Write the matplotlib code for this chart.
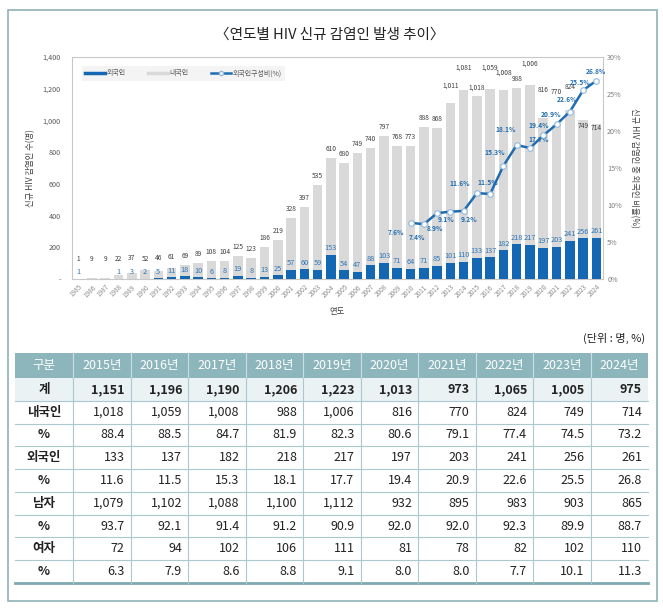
import matplotlib
matplotlib.use("Agg")
import matplotlib.pyplot as plt
from matplotlib.lines import Line2D
from matplotlib.patches import Rectangle
from matplotlib.ticker import FuncFormatter

plt.rcParams['font.family'] = ['Noto Sans CJK KR', 'DejaVu Sans']

# chart data (1985-2024)
years = list(range(1985, 2025))
domestic = [1, 9, 9, 22, 37, 52, 46, 61, 69, 89, 108, 104, 125, 123, 186, 219, 328, 397, 535, 610,
            680, 749, 740, 797, 768, 773, 888, 868, 1011, 1081, 1018, 1059, 1008, 988, 1006, 816,
            770, 824, 749, 714]
foreign = [1, 0, 0, 1, 3, 2, 5, 11, 18, 10, 6, 8, 19, 8, 13, 25, 57, 60, 59, 153,
           54, 47, 88, 103, 71, 64, 71, 85, 101, 110, 133, 137, 182, 218, 217, 197,
           203, 241, 256, 261]
ratio_years = list(range(2010, 2025))
ratio = [7.6, 7.4, 8.9, 9.1, 9.2, 11.6, 11.5, 15.3, 18.1, 17.7, 19.4, 20.9, 22.6, 25.5, 26.8]

# table data
table_cols = ['2015년', '2016년', '2017년', '2018년', '2019년', '2020년', '2021년', '2022년', '2023년', '2024년']
row_labels = ['계', '내국인', '%', '외국인', '%', '남자', '%', '여자', '%']
t_total = [1151, 1196, 1190, 1206, 1223, 1013, 973, 1065, 1005, 975]
t_dom = [1018, 1059, 1008, 988, 1006, 816, 770, 824, 749, 714]
t_dom_pct = [88.4, 88.5, 84.7, 81.9, 82.3, 80.6, 79.1, 77.4, 74.5, 73.2]
t_for = [133, 137, 182, 218, 217, 197, 203, 241, 256, 261]
t_for_pct = [11.6, 11.5, 15.3, 18.1, 17.7, 19.4, 20.9, 22.6, 25.5, 26.8]
t_male = [1079, 1102, 1088, 1100, 1112, 932, 895, 983, 903, 865]
t_male_pct = [93.7, 92.1, 91.4, 91.2, 90.9, 92.0, 92.0, 92.3, 89.9, 88.7]
t_female = [72, 94, 102, 106, 111, 81, 78, 82, 102, 110]
t_female_pct = [6.3, 7.9, 8.6, 8.8, 9.1, 8.0, 8.0, 7.7, 10.1, 11.3]

# label nudges (pixels) - layout only
top_shift = {2013: 8, 2014: 13, 2016: 13, 2017: 9, 2019: 12, 2020: 19, 2021: 24, 2022: 14,
             2023: -15, 2024: -13}
pct_shift = [(-15, -10), (-7, -13), (-2, -15), (-4, -8), (6, -9), (-17, 10), (-2, 11), (-9, 13),
             (-11, 16), (9, 9), (-5, 10), (-5, 10), (-3, 12), (-3, 8), (0, 9)]

BLUE = '#1467b3'
GRAY = '#d9d9d9'
W, H = 663, 609

fig = plt.figure(figsize=(W / 100, H / 100), dpi=100)

# overlay for frame, title and table (pixel coords)
ov = fig.add_axes([0, 0, 1, 1])
ov.set_xlim(0, W)
ov.set_ylim(H, 0)
ov.axis('off')
ov.add_patch(Rectangle((8, 10), 649, 591, fill=False, ec='#8fb3b8', lw=1.2))
ov.text(330, 35, '〈연도별 HIV 신규 감염인 발생 추이〉', ha='center', va='center',
        fontsize=10.5, color='#222222')

# chart
ax = fig.add_axes([72 / W, 1 - 279 / H, 531 / W, 222 / H])
x = list(range(len(years)))
ax.bar(x, foreign, width=0.72, color=BLUE, zorder=3)
ax.bar(x, domestic, width=0.72, bottom=foreign, color=GRAY, zorder=2)
ax.set_xlim(-0.5, len(years) - 0.5)
ax.set_ylim(0, 1400)
ax.set_yticks(range(0, 1401, 200))
ax.yaxis.set_major_formatter(FuncFormatter(lambda v, p: '-' if v == 0 else f'{int(v):,}'))
ax.set_xticks(x)
ax.set_xticklabels(years, rotation=45, ha='right', rotation_mode='anchor')
ax.tick_params(axis='both', length=0, labelsize=4.6, labelcolor='#8c8c8c', pad=3)
ax.tick_params(axis='y', labelsize=5.2, labelcolor='#595959', pad=8)
for s in ax.spines.values():
    s.set_color('#c8c8c8')
    s.set_linewidth(0.8)
ax.set_xlabel('연도', fontsize=6, color='#404040', labelpad=6)
ax.set_ylabel('신규 HIV 감염인 수(명)', fontsize=6, color='#404040', labelpad=5)

for i, yr in enumerate(years):
    total = domestic[i] + foreign[i]
    if foreign[i] > 0:
        ax.annotate(f'{foreign[i]}', (i, foreign[i]), xytext=(0, 2.5), textcoords='offset pixels',
                    ha='center', va='bottom', fontsize=5.3, color='#2e75b6', zorder=5)
    base = max(total, foreign[i] + 70)
    ax.annotate(f'{domestic[i]:,}', (i, base), xytext=(0, 5 + top_shift.get(yr, 0)),
                textcoords='offset pixels', ha='center', va='bottom', fontsize=4.8,
                color='#404040', zorder=5)

ax2 = ax.twinx()
rx = [years.index(y) for y in ratio_years]
ax2.plot(rx, ratio, color='#1f6cb0', lw=1.8, marker='o', ms=4, mfc='white',
         mec='#8fb8dc', mew=0.8, zorder=6)
for i, v in enumerate(ratio):
    dx, dy = pct_shift[i]
    ax2.annotate(f'{v:.1f}%', (rx[i], v), xytext=(dx, dy), textcoords='offset pixels',
                 ha='center', va='center', fontsize=4.8, color='#1f6cb0', fontweight='bold')
ax2.set_ylim(0, 30)
ax2.set_yticks(range(0, 31, 5))
ax2.yaxis.set_major_formatter(FuncFormatter(lambda v, p: f'{int(v)}%'))
ax2.tick_params(axis='y', length=0, labelsize=5.2, labelcolor='#7f7f7f', pad=3)
for s in ax2.spines.values():
    s.set_visible(False)
ax2.set_ylabel('신규 HIV 감염인 중 외국인 비율(%)', fontsize=6, color='#404040',
               rotation=270, labelpad=12)

handles = [Line2D([], [], color=BLUE, lw=2.5),
           Line2D([], [], color=GRAY, lw=2.5),
           Line2D([], [], color='#1f6cb0', lw=1.8, marker='o', ms=3, mfc='white', mec='#8fb8dc')]
leg = ax.legend(handles, ['외국인', '내국인', '외국인구성비(%)'], loc='upper left',
                bbox_to_anchor=(0.012, 0.975), ncol=3, fontsize=5, frameon=True,
                facecolor='#f2f2f2', edgecolor='none', fancybox=False, handlelength=2.8,
                columnspacing=3.2, handletextpad=0.3, borderpad=0.5)
for t in leg.get_texts():
    t.set_color('#595959')

# table
ov.text(645, 338, '(단위 : 명, %)', ha='right', va='center', fontsize=8, color='#222222')
tx0, tx1 = 15, 648
c0 = 73
cw = (tx1 - c0) / len(table_cols)
hy0, hy1 = 353, 378
rh = (583 - hy1) / len(row_labels)
ov.add_patch(Rectangle((tx0, hy0), tx1 - tx0, hy1 - hy0, color='#8cb5bc', lw=0))
ov.add_patch(Rectangle((tx0, hy1), tx1 - tx0, rh, color='#eaf2f4', lw=0))
ov.text((tx0 + c0) / 2, (hy0 + hy1) / 2, '구분', ha='center', va='center', fontsize=9,
        color='white')
for j, c in enumerate(table_cols):
    ov.text(c0 + cw * (j + 0.5), (hy0 + hy1) / 2, c, ha='center', va='center',
            fontsize=9, color='white')

rows = [t_total, t_dom, t_dom_pct, t_for, t_for_pct, t_male, t_male_pct, t_female, t_female_pct]
for r, (lab, vals) in enumerate(zip(row_labels, rows)):
    yc = hy1 + rh * (r + 0.5)
    bold = r == 0
    ov.text((tx0 + c0) / 2, yc, lab, ha='center', va='center', fontsize=9,
            color='#222222', fontweight='bold')
    for j, v in enumerate(vals):
        s = f'{v:.1f}' if isinstance(v, float) else f'{v:,}'
        ov.text(c0 + cw * (j + 1) - 6, yc, s, ha='right', va='center', fontsize=9,
                color='#222222', fontweight='bold' if bold else 'normal')
    if r > 0:
        ov.plot([tx0, tx1], [hy1 + rh * r] * 2, color='#a9c9ce', lw=0.8)
ov.plot([tx0, tx1], [583, 583], color='#7fa9b0', lw=2)
for j in range(len(table_cols)):
    xl = c0 + cw * j
    ov.plot([xl, xl], [hy0, hy1], color='#c9dfe2', lw=0.8)
    ov.plot([xl, xl], [hy1, 583], color='#a9c9ce', lw=0.8)

fig.savefig('out.png', dpi=100)
